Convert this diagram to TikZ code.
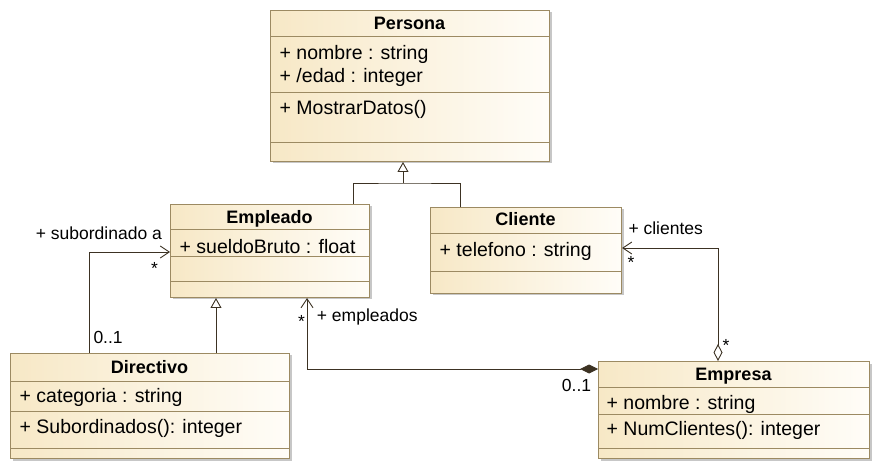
\documentclass[tikz,border=0pt]{standalone}
\usepackage{fontspec}
\setmainfont{Liberation Sans}
\usetikzlibrary{arrows.meta,shadows}
\definecolor{boxline}{RGB}{156,138,98}
\definecolor{boxleft}{RGB}{247,232,198}
\definecolor{boxright}{RGB}{255,253,248}
\definecolor{wire}{RGB}{60,50,35}
\begin{document}
\begin{tikzpicture}[x=1pt,y=-1pt,
    cls/.style={draw=boxline,line width=1pt,left color=boxleft,right color=boxright,
      anchor=north west,inner sep=0pt,
      drop shadow={shadow xshift=2pt,shadow yshift=-2pt,fill=black!22,opacity=1}},
    sep/.style={draw=boxline,line width=1pt},
    ttl/.style={anchor=base,inner sep=0pt,font=\fontsize{18}{22}\selectfont\bfseries},
    attr/.style={anchor=base west,inner sep=0pt,font=\fontsize{19.5}{23}\selectfont},
    lbl/.style={anchor=base west,inner sep=0pt,font=\fontsize{17.5}{21}\selectfont},
    wirel/.style={draw=wire,line width=0.9pt},
    gen/.style={wirel,-{Triangle[open,fill=white,length=10pt,width=11pt]}},
    nav/.style={wirel,-{Straight Barb[length=9pt,width=12pt]}},
    comp/.style={wirel,{Diamond[length=18pt,width=9pt]}-{Straight Barb[length=9pt,width=12pt]}},
    aggr/.style={wirel,{Diamond[open,fill=white,length=17pt,width=9pt]}-{Straight Barb[length=9pt,width=12pt]}}]
  \useasboundingbox (0,0) rectangle (881,470);
  \node[cls,minimum width=279pt,minimum height=151pt] (persona) at (270,10) {};
  \node[cls,minimum width=199pt,minimum height=93pt] (empleado) at (170,204) {};
  \node[cls,minimum width=191pt,minimum height=86pt] (cliente) at (430,207) {};
  \node[cls,minimum width=279pt,minimum height=105pt] (directivo) at (10,353) {};
  \node[cls,minimum width=271pt,minimum height=97pt] (empresa) at (598,361) {};
  \foreach \n/\y in {persona/37,persona/93,persona/143,empleado/230,empleado/257,empleado/282,
      cliente/234,cliente/272,directivo/381,directivo/411,directivo/448,empresa/387,empresa/414,empresa/448}
    \draw[sep] (\n.west |- 0,\y) -- (\n.east |- 0,\y);
  \node[ttl] (ptit) at (409.5,30) {Persona};
  \node[attr] (pnom) at (279.5,60) {+ nombre : string};
  \node[attr] (pedad) at (279.5,82.7) {+ /edad : integer};
  \node[attr] (pmost) at (279.5,115) {+ MostrarDatos()};
  \node[ttl] (etit) at (269.5,223.3) {Empleado};
  \node[attr] (esueldo) at (179.5,253.3) {+ sueldoBruto : float};
  \node[ttl] (ctit) at (525.5,226) {Cliente};
  \node[attr] (ctel) at (439.5,256.7) {+ telefono : string};
  \node[ttl] (dtit) at (149.5,373.3) {Directivo};
  \node[attr] (dcat) at (19.5,402.3) {+ categoria : string};
  \node[attr] (dsub) at (19.5,433.3) {+ Subordinados(): integer};
  \node[ttl] (mtit) at (733.5,380) {Empresa};
  \node[attr] (mnom) at (606.5,409.3) {+ nombre : string};
  \node[attr] (mnum) at (606.5,435.7) {+ NumClientes(): integer};
  \coordinate (gjoin) at (403,183);
  \draw[wirel] (empleado.north -| 353,0) |- (gjoin) -| (cliente.north -| 460,0);
  \draw[gen] (gjoin) -- (gjoin |- persona.south);
  \draw[gen] (directivo.north -| 216,0) -- (empleado.south -| 216,0);
  \draw[nav] (directivo.north -| 89,0) |- (empleado.west |- 0,252);
  \draw[comp] (empresa.west |- 0,369) -| (empleado.south -| 307,0);
  \draw[aggr] (empresa.north -| 718,0) |- (cliente.east |- 0,248);
  \node[lbl] (lsub) at (35.7,240) {+ subordinado a};
  \node[lbl] (lsubm) at (151,274.8) {*};
  \node[lbl] (ldir) at (93.3,344) {0..1};
  \node[lbl] (lempm) at (298,327.5) {*};
  \node[lbl] (lemp) at (316.7,321.7) {+ empleados};
  \node[lbl] (lcom) at (561.7,391.7) {0..1};
  \node[lbl] (lcli) at (628.3,234.3) {+ clientes};
  \node[lbl] (lclim) at (627.5,269) {*};
  \node[lbl] (lagg) at (722.5,351.5) {*};
\end{tikzpicture}
\end{document}
